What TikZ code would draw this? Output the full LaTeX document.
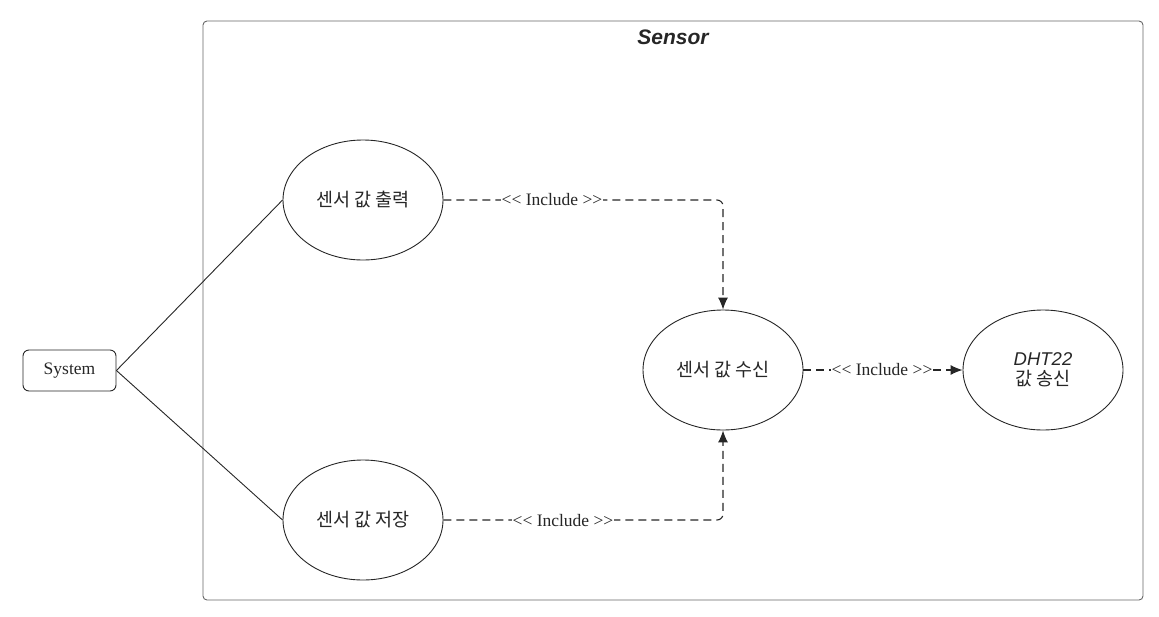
\documentclass[tikz,border=0pt]{standalone}
\usepackage{fontspec}
\setmainfont{Liberation Serif}
\newfontfamily\kr{Noto Sans CJK KR}
\newfontfamily\lsans{Liberation Sans}
\usetikzlibrary{arrows.meta,shapes.geometric}
\begin{document}
\begin{tikzpicture}[x=1pt,y=-1pt,
  line/.style={draw=black!85,line width=0.9pt},
  usecase/.style={ellipse,draw=black!85,line width=0.9pt,minimum width=160pt,minimum height=120pt,inner sep=0pt,font=\kr\fontsize{18.5}{22}\selectfont,align=center,text=black!85},
  incl/.style={draw=black!85,line width=1.1pt,dash pattern=on 8pt off 5pt,rounded corners=6pt},
  tip/.style={-{Latex[length=12pt,width=10pt]}},
  lbl/.style={fill=white,inner sep=1pt,font=\fontsize{17.5}{20}\selectfont,text=black!85}]
\useasboundingbox (0,0) rectangle (1159,616);
\draw[draw=black!60,line width=0.9pt,rounded corners=4pt] (203,21) rectangle (1143,600);
\node[font=\lsans\bfseries\itshape\fontsize{21}{24}\selectfont,text=black!85] (title) at (673,37) {Sensor};
\node[draw=black!85,line width=0.9pt,rounded corners=6pt,minimum width=93pt,minimum height=41pt,inner sep=0pt,font=\fontsize{17.5}{20}\selectfont,text=black!85] (sys) at (69.5,370.5) {System};
\node[usecase] (out) at (363,200) {센서 값 출력};
\node[usecase] (save) at (363,520) {센서 값 저장};
\node[usecase] (recv) at (723,370) {센서 값 수신};
\node[usecase] (dht) at (1043,370) {{\lsans\itshape DHT22}\\[-2pt]값 송신};
\draw[line] (sys.east) -- (out.west);
\draw[line] (sys.east) -- (save.west);
\coordinate (c1) at (723,200);
\coordinate (c2) at (723,520);
\draw[incl,tip] (out.east) -- (c1) -- (recv.north);
\draw[incl,tip] (save.east) -- (c2) -- (recv.south);
\draw[incl,tip] (recv.east) -- (dht.west);
\node[lbl] (l1) at (552,200) {{<}{<} Include {>}{>}};
\node[lbl] (l2) at (563,521) {{<}{<} Include {>}{>}};
\node[lbl] (l3) at (882,370) {{<}{<} Include {>}{>}};
\end{tikzpicture}
\end{document}
